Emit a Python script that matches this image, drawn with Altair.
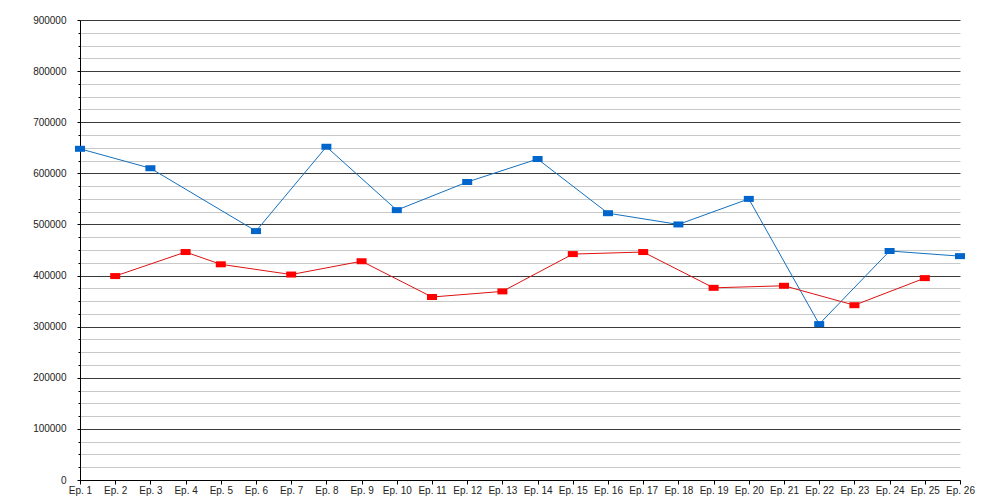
import altair as alt
import pandas as pd

episodes = [f"Ep. {i}" for i in range(1, 27)]

blue_eps = [1, 3, 6, 8, 10, 12, 14, 16, 18, 20, 22, 24, 26]
blue_vals = [648000, 610000, 487000, 652000, 528000, 583000, 628000,
             522000, 500000, 550000, 305000, 448000, 438000]

red_eps = [2, 4, 5, 7, 9, 11, 13, 15, 17, 19, 21, 23, 25]
red_vals = [399000, 446000, 422000, 402000, 428000, 358000, 369000,
            442000, 446000, 376000, 380000, 342000, 395000]

major_ticks = list(range(0, 900001, 100000))
minor_ticks = [v for v in range(0, 900001, 25000) if v % 100000 != 0]

series_names = ["A", "B"]
marker_colors = ["#0066cc", "#ff0000"]
line_colors = ["#1470bd", "#dd1111"]

rows = []
for e, v in zip(blue_eps, blue_vals):
    rows.append({"ep": episodes[e - 1], "value": v, "series": "A", "order": e})
for e, v in zip(red_eps, red_vals):
    rows.append({"ep": episodes[e - 1], "value": v, "series": "B", "order": e})
df = pd.DataFrame(rows)

font = "Liberation Sans"

x_enc = alt.X(
    "ep:O",
    sort=episodes,
    scale=alt.Scale(type="point", domain=episodes, padding=0),
    axis=alt.Axis(
        title=None, labelAngle=0, labelOverlap=False, grid=False,
        domainColor="#000000", tickColor="#000000", tickSize=4,
        labelPadding=1, labelFont=font, labelFontSize=10, labelColor="#222222",
    ),
)

y_scale = alt.Scale(domain=[0, 900000], nice=False, zero=True)

line = alt.Chart(df).mark_line(strokeWidth=1).encode(
    x=x_enc,
    y=alt.Y(
        "value:Q", scale=y_scale,
        axis=alt.Axis(
            orient="left", title=None, values=minor_ticks, labels=False,
            domain=False, grid=True, gridColor="#c8c8c8", gridWidth=1,
            tickSize=2, tickColor="#000000",
        ),
    ),
    color=alt.Color("series:N", scale=alt.Scale(domain=series_names, range=line_colors), legend=None),
    detail="series:N",
    order="order:Q",
)

points = alt.Chart(df).mark_point(
    shape="M-1,-0.6H1V0.6H-1Z", filled=True, opacity=1, size=100, strokeWidth=0,
).encode(
    x=x_enc,
    y=alt.Y(
        "value:Q", scale=y_scale,
        axis=alt.Axis(
            orient="left", title=None, values=major_ticks, format="d",
            domain=True, domainColor="#000000", grid=True, gridColor="#3a3a3a",
            gridWidth=1, tickSize=3, tickColor="#000000", labelPadding=11,
            labelFont=font, labelFontSize=10, labelColor="#222222",
        ),
    ),
    color=alt.Color("series:N", scale=alt.Scale(domain=series_names, range=marker_colors), legend=None),
)

chart = alt.layer(line, points).resolve_axis(y="independent").resolve_scale(color="independent").properties(
    width=880,
    height=460,
    autosize=alt.AutoSizeParams(type="none"),
    padding={"left": 72, "top": 12, "right": 32, "bottom": 20},
    background="#ffffff",
).configure_view(stroke=None)

chart.save("out.html", embed_options={"renderer": "svg", "actions": False})
